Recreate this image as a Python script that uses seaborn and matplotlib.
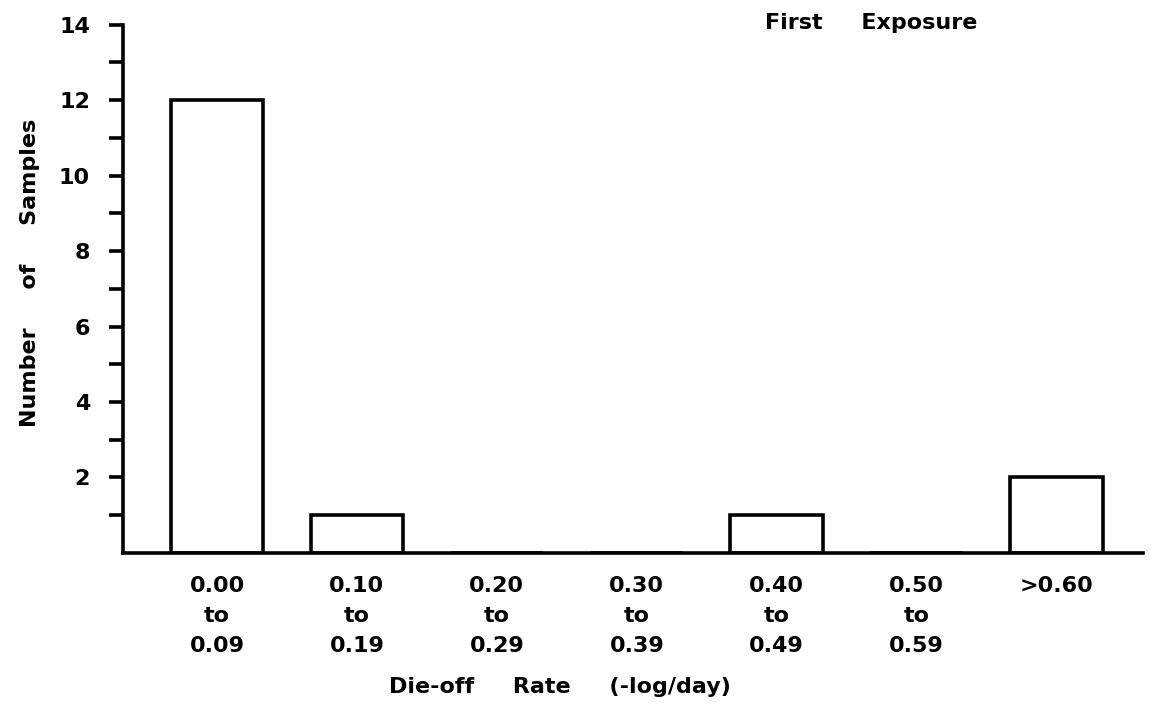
import matplotlib
matplotlib.use("Agg")
import matplotlib.pyplot as plt
import seaborn as sns
import pandas as pd

# Die-off rate bins and sample counts
categories = ["0.00\nto\n0.09", "0.10\nto\n0.19", "0.20\nto\n0.29", "0.30\nto\n0.39",
              "0.40\nto\n0.49", "0.50\nto\n0.59", ">0.60\n\n"]
counts = [12, 1, 0, 0, 1, 0, 2]
y_ticks = [2, 4, 6, 8, 10, 12, 14]
y_minor = [1, 3, 5, 7, 9, 11, 13]

sns.set_theme(style="ticks")
plt.rcParams['font.family'] = ['DejaVu Sans']
plt.rcParams.update({
    'font.weight': 'bold',
    'text.color': 'black',
    'axes.labelcolor': 'black',
    'xtick.color': 'black',
    'ytick.color': 'black',
})

df = pd.DataFrame({"rate": categories, "n": counts})

fig = plt.figure(figsize=(11.63, 7.07), dpi=100)
ax = fig.add_axes([0.106, 0.218, 0.877, 0.747])

sns.barplot(data=df, x="rate", y="n", fill=False, color="black",
            edgecolor="black", linewidth=2.6, width=0.66, ax=ax)

ax.set_xlim(-0.67, 6.62)
ax.set_ylim(0, 14)
ax.set_yticks(y_ticks)
ax.set_yticks(y_minor, minor=True)
ax.tick_params(axis='y', which='both', direction='out', length=10, width=2.6,
               labelsize=16, pad=14)
ax.tick_params(axis='x', length=0, labelsize=16, pad=17)
for lbl in ax.get_xticklabels() + ax.get_yticklabels():
    lbl.set_fontweight('bold')
    lbl.set_linespacing(1.6)

sns.despine(ax=ax)
for side in ['left', 'bottom']:
    ax.spines[side].set_linewidth(2.6)
    ax.spines[side].set_color('black')

ax.set_xlabel("Die-off     Rate     (-log/day)", fontsize=16, fontweight='bold')
ax.xaxis.set_label_coords(0.428, -0.235)
ax.set_ylabel("Number     of     Samples", fontsize=16, fontweight='bold')
ax.yaxis.set_label_coords(-0.082, 0.53)
fig.text(0.658, 0.968, "First     Exposure", fontsize=16, fontweight='bold',
         ha='left', va='center')

fig.savefig("out.png", dpi=100)
